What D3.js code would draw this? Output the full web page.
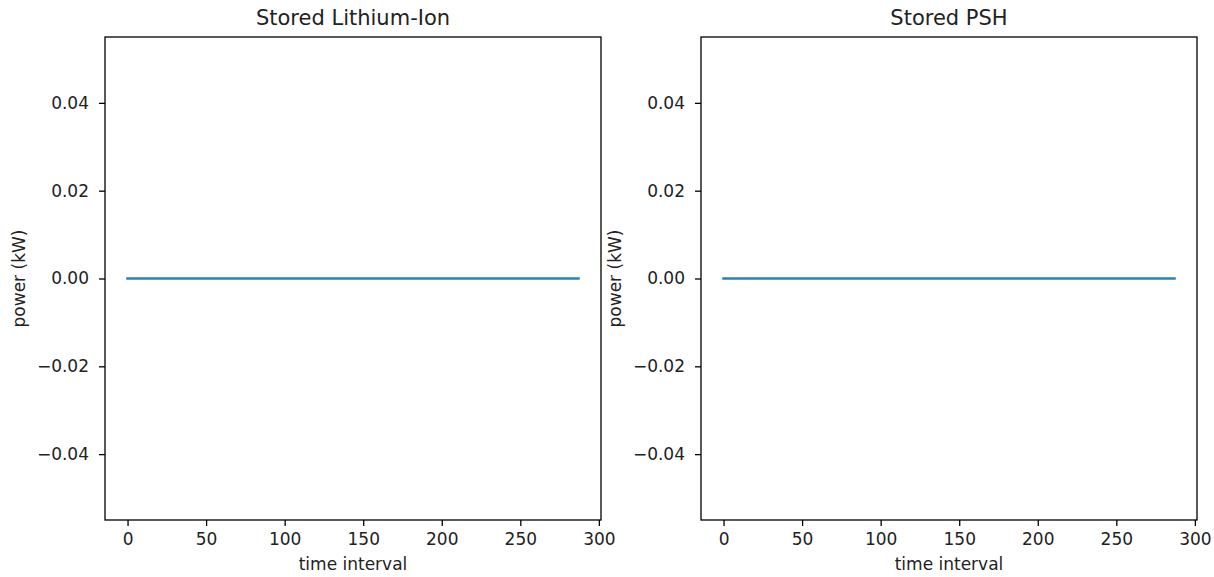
<!DOCTYPE html>
<html><head><meta charset="utf-8">
<script src="https://cdn.jsdelivr.net/npm/d3@7"></script>
<style>
html,body{margin:0;padding:0;background:#fff;}
svg{display:block;}
text{font-family:"DejaVu Sans",sans-serif;fill:#222;}
</style></head>
<body>
<svg id="chart" width="1214" height="577"></svg>
<script>
// Data: flat zero line from interval 0 to 287
const panelTitles = ["Stored Lithium-Ion", "Stored PSH"];
const timeIntervals = [0, 287];
const storedLithiumIon = [0, 0];
const storedPSH = [0, 0];
const xTicks = [0, 50, 100, 150, 200, 250, 300];
const yTicks = [-0.04, -0.02, 0.00, 0.02, 0.04];
const xLabel = "time interval";
const yLabel = "power (kW)";

(function () {
const svg = d3.select("#chart");
const panels = [
  {title: panelTitles[0], values: storedLithiumIon, left: 105, right: 601},
  {title: panelTitles[1], values: storedPSH, left: 701, right: 1197}
];
const plotTop = 37, plotBottom = 520;
const fs = 17;

panels.forEach(p => {
  const x = d3.scaleLinear().domain([-14.35, 301.35]).range([p.left, p.right]);
  const y = d3.scaleLinear().domain([-0.055, 0.055]).range([plotBottom, plotTop]);
  const g = svg.append("g");

  // line
  const pts = timeIntervals.map((t, i) => [t, p.values[i]]);
  g.append("path")
    .attr("d", d3.line().x(d => x(d[0])).y(d => y(d[1]))(pts))
    .attr("fill", "none")
    .attr("stroke", "#2a7fc0")
    .attr("stroke-width", 2.6)
    .attr("stroke-linecap", "square");

  // x axis
  const xa = g.append("g").attr("transform", `translate(0,${plotBottom})`)
    .call(d3.axisBottom(x).tickValues(xTicks).tickSize(6).tickPadding(7).tickFormat(d3.format("d")));
  xa.select(".domain").remove();
  xa.selectAll("line").attr("stroke", "#000").attr("stroke-width", 1.3);
  xa.selectAll("text").attr("font-size", fs).attr("font-family", "DejaVu Sans").attr("fill", "#222");

  // y axis
  const fmt = d => d3.format(".2f")(d).replace("-", "\u2212");
  const ya = g.append("g").attr("transform", `translate(${p.left},0)`)
    .call(d3.axisLeft(y).tickValues(yTicks).tickSize(6).tickPadding(10).tickFormat(fmt));
  ya.select(".domain").remove();
  ya.selectAll("line").attr("stroke", "#000").attr("stroke-width", 1.3);
  ya.selectAll("text").attr("font-size", fs).attr("font-family", "DejaVu Sans").attr("fill", "#222");

  // frame
  g.append("rect")
    .attr("x", p.left).attr("y", plotTop)
    .attr("width", p.right - p.left).attr("height", plotBottom - plotTop)
    .attr("fill", "none").attr("stroke", "#000").attr("stroke-width", 1.3);

  // title
  g.append("text")
    .attr("x", (p.left + p.right) / 2).attr("y", plotTop - 12)
    .attr("text-anchor", "middle").attr("font-size", 21)
    .text(p.title);

  // x label
  g.append("text")
    .attr("x", (p.left + p.right) / 2).attr("y", 570)
    .attr("text-anchor", "middle").attr("font-size", fs)
    .text(xLabel);

  // y label
  g.append("text")
    .attr("transform", `translate(${p.left - 80},${(plotTop + plotBottom) / 2}) rotate(-90)`)
    .attr("text-anchor", "middle").attr("font-size", fs)
    .text(yLabel);
});
})();
</script>
</body></html>
